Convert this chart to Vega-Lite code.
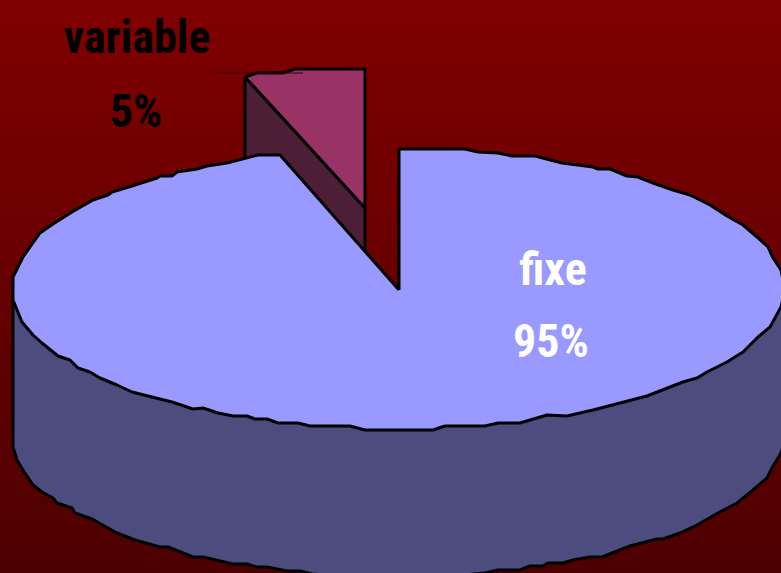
{
  "$schema": "https://vega.github.io/schema/vega-lite/v6.json",
  "width": 781,
  "height": 573,
  "padding": 0,
  "autosize": {"type": "fit", "contains": "padding"},
  "background": "#4d0000",
  "view": {
    "stroke": null,
    "fill": {"gradient": "linear", "x1": 0, "y1": 0, "x2": 0, "y2": 1, "stops": [{"offset": 0, "color": "#800000"}, {"offset": 1, "color": "#4d0000"}]}
  },
  "datasets": {
    "wall": [
      {"i":0,"x":13,"y":290},{"i":1,"x":13,"y":447},{"i":2,"x":17,"y":460},{"i":3,"x":23,"y":470},{"i":4,"x":33,"y":485},{"i":5,"x":42,"y":492},{"i":6,"x":53,"y":498},{"i":7,"x":57,"y":503},{"i":8,"x":72,"y":508},{"i":9,"x":75,"y":513},{"i":10,"x":92,"y":519},{"i":11,"x":117,"y":533},{"i":12,"x":135,"y":540},{"i":13,"x":160,"y":547},{"i":14,"x":168,"y":547},{"i":15,"x":193,"y":557},{"i":16,"x":203,"y":557},{"i":17,"x":233,"y":564},{"i":18,"x":247,"y":564},{"i":19,"x":257,"y":567},{"i":20,"x":267,"y":567},{"i":21,"x":287,"y":571},{"i":22,"x":300,"y":571},{"i":23,"x":312,"y":574},{"i":24,"x":365,"y":578},{"i":25,"x":433,"y":578},{"i":26,"x":485,"y":573},{"i":27,"x":498,"y":570},{"i":28,"x":520,"y":570},{"i":29,"x":530,"y":566},{"i":30,"x":543,"y":566},{"i":31,"x":548,"y":563},{"i":32,"x":563,"y":563},{"i":33,"x":573,"y":560},{"i":34,"x":590,"y":557},{"i":35,"x":602,"y":557},{"i":36,"x":630,"y":546},{"i":37,"x":657,"y":539},{"i":38,"x":663,"y":539},{"i":39,"x":680,"y":533},{"i":40,"x":697,"y":525},{"i":41,"x":718,"y":513},{"i":42,"x":737,"y":503},{"i":43,"x":753,"y":490},{"i":44,"x":767,"y":478},{"i":45,"x":772,"y":468},{"i":46,"x":781,"y":453},{"i":47,"x":785,"y":440},{"i":48,"x":785,"y":290},{"i":49,"x":13,"y":290}
    ],
    "sliceSide": [
      {"i":0,"x":245,"y":77},{"i":1,"x":365,"y":208},{"i":2,"x":365,"y":255},{"i":3,"x":290,"y":175},{"i":4,"x":245,"y":175},{"i":5,"x":245,"y":77}
    ],
    "sliceTop": [
      {"i":0,"x":245,"y":77},{"i":1,"x":257,"y":73},{"i":2,"x":283,"y":73},{"i":3,"x":295,"y":69},{"i":4,"x":365,"y":69},{"i":5,"x":365,"y":208},{"i":6,"x":245,"y":77}
    ],
    "leader": [
      {"i":0,"x":215,"y":73},{"i":1,"x":303,"y":73}
    ],
    "face": [
      {"i":0,"x":399,"y":290},{"i":1,"x":399,"y":149},{"i":2,"x":465,"y":149},{"i":3,"x":478,"y":152},{"i":4,"x":498,"y":153},{"i":5,"x":512,"y":156},{"i":6,"x":535,"y":156},{"i":7,"x":562,"y":163},{"i":8,"x":593,"y":167},{"i":9,"x":598,"y":169},{"i":10,"x":610,"y":169},{"i":11,"x":627,"y":176},{"i":12,"x":638,"y":177},{"i":13,"x":653,"y":183},{"i":14,"x":673,"y":190},{"i":15,"x":690,"y":195},{"i":16,"x":710,"y":205},{"i":17,"x":727,"y":216},{"i":18,"x":743,"y":225},{"i":19,"x":757,"y":237},{"i":20,"x":768,"y":247},{"i":21,"x":773,"y":258},{"i":22,"x":781,"y":270},{"i":23,"x":785,"y":290},{"i":24,"x":781,"y":307},{"i":25,"x":770,"y":327},{"i":26,"x":757,"y":338},{"i":27,"x":743,"y":352},{"i":28,"x":727,"y":362},{"i":29,"x":707,"y":372},{"i":30,"x":697,"y":378},{"i":31,"x":683,"y":382},{"i":32,"x":670,"y":387},{"i":33,"x":647,"y":396},{"i":34,"x":620,"y":403},{"i":35,"x":593,"y":410},{"i":36,"x":567,"y":416},{"i":37,"x":547,"y":415},{"i":38,"x":520,"y":423},{"i":39,"x":498,"y":423},{"i":40,"x":485,"y":426},{"i":41,"x":445,"y":426},{"i":42,"x":433,"y":430},{"i":43,"x":365,"y":430},{"i":44,"x":350,"y":426},{"i":45,"x":310,"y":426},{"i":46,"x":298,"y":423},{"i":47,"x":278,"y":423},{"i":48,"x":267,"y":419},{"i":49,"x":255,"y":419},{"i":50,"x":247,"y":416},{"i":51,"x":233,"y":416},{"i":52,"x":218,"y":413},{"i":53,"x":203,"y":408},{"i":54,"x":193,"y":409},{"i":55,"x":172,"y":402},{"i":56,"x":148,"y":396},{"i":57,"x":132,"y":392},{"i":58,"x":117,"y":385},{"i":59,"x":100,"y":378},{"i":60,"x":90,"y":372},{"i":61,"x":78,"y":368},{"i":62,"x":70,"y":360},{"i":63,"x":58,"y":356},{"i":64,"x":42,"y":343},{"i":65,"x":33,"y":335},{"i":66,"x":22,"y":322},{"i":67,"x":13,"y":300},{"i":68,"x":13,"y":277},{"i":69,"x":23,"y":257},{"i":70,"x":30,"y":247},{"i":71,"x":40,"y":233},{"i":72,"x":53,"y":224},{"i":73,"x":72,"y":212},{"i":74,"x":93,"y":200},{"i":75,"x":108,"y":195},{"i":76,"x":112,"y":192},{"i":77,"x":132,"y":186},{"i":78,"x":157,"y":178},{"i":79,"x":160,"y":176},{"i":80,"x":172,"y":176},{"i":81,"x":177,"y":172},{"i":82,"x":197,"y":169},{"i":83,"x":207,"y":166},{"i":84,"x":227,"y":163},{"i":85,"x":258,"y":155},{"i":86,"x":280,"y":155},{"i":87,"x":399,"y":290}
    ],
    "labels": [
      {"label":"variable","x":137,"y":53,"tone":"dark"},
      {"label":"5%","x":136,"y":127,"tone":"dark"},
      {"label":"fixe","x":553,"y":285,"tone":"light"},
      {"label":"95%","x":551,"y":357,"tone":"light"}
    ]
  },
  "encoding": {
    "x": {"field": "x", "type": "quantitative", "axis": null, "scale": {"domain": [0, 781], "nice": false, "zero": false}},
    "y": {"field": "y", "type": "quantitative", "axis": null, "scale": {"domain": [573, 0], "nice": false, "zero": false}}
  },
  "layer": [
    {
      "data": {"name": "sliceSide"},
      "mark": {"type": "line", "fill": "#4c1f37", "stroke": "#000000", "strokeWidth": 3, "strokeJoin": "miter", "clip": true},
      "encoding": {"order": {"field": "i"}}
    },
    {
      "data": {"name": "sliceTop"},
      "mark": {"type": "line", "fill": "#993366", "stroke": "#000000", "strokeWidth": 3, "strokeJoin": "miter", "clip": true},
      "encoding": {"order": {"field": "i"}}
    },
    {
      "data": {"name": "leader"},
      "mark": {"type": "line", "stroke": "#330000", "strokeWidth": 1, "clip": true},
      "encoding": {"order": {"field": "i"}}
    },
    {
      "data": {"name": "wall"},
      "mark": {"type": "line", "fill": "#4c4c7f", "stroke": "#000000", "strokeWidth": 3, "strokeJoin": "round", "clip": true},
      "encoding": {"order": {"field": "i"}}
    },
    {
      "data": {"name": "face"},
      "mark": {"type": "line", "fill": "#9999ff", "stroke": "#000000", "strokeWidth": 3, "strokeJoin": "round", "clip": true},
      "encoding": {"order": {"field": "i"}}
    },
    {
      "data": {"name": "labels"},
      "mark": {"type": "text", "font": "Roboto Condensed, Liberation Sans", "fontWeight": "bold", "fontSize": 46, "baseline": "alphabetic", "align": "center"},
      "encoding": {
        "text": {"field": "label"},
        "color": {"field": "tone", "type": "nominal", "legend": null, "scale": {"domain": ["dark", "light"], "range": ["#000000", "#ffffff"]}}
      }
    }
  ]
}
